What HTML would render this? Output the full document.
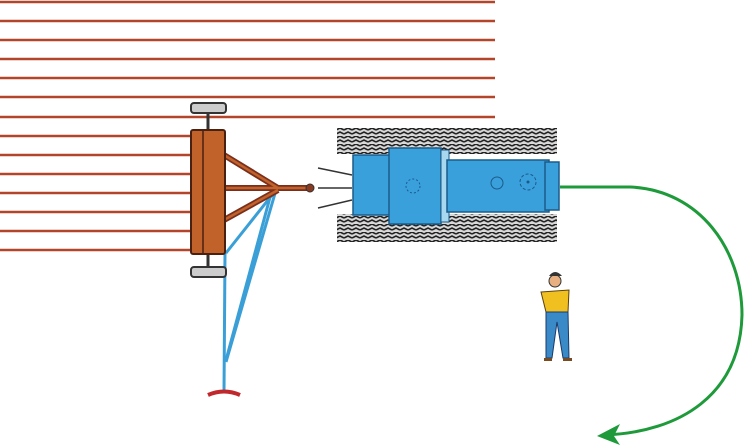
<!DOCTYPE html>
<html><head><style>html,body{margin:0;padding:0;background:#fff}svg{display:block}</style></head>
<body>
<svg width="744" height="447" viewBox="0 0 744 447" xmlns="http://www.w3.org/2000/svg">
<defs>
<pattern id="tr" width="8" height="8" patternUnits="userSpaceOnUse">
<rect width="8" height="8" fill="#d8d8d8"/>
<path d="M0 2 L4 0 L8 2 M0 6 L4 4 L8 6" stroke="#222" stroke-width="1.6" fill="none"/>
</pattern>
</defs>
<g stroke="#b4442a" stroke-width="2.4">
<line x1="0" y1="2" x2="495" y2="2"/><line x1="0" y1="21" x2="495" y2="21"/>
<line x1="0" y1="40" x2="495" y2="40"/><line x1="0" y1="59" x2="495" y2="59"/>
<line x1="0" y1="78" x2="495" y2="78"/><line x1="0" y1="97" x2="495" y2="97"/>
<line x1="0" y1="117" x2="495" y2="117"/><line x1="0" y1="136" x2="190" y2="136"/>
<line x1="0" y1="155" x2="190" y2="155"/><line x1="0" y1="174" x2="190" y2="174"/>
<line x1="0" y1="193" x2="190" y2="193"/><line x1="0" y1="212" x2="190" y2="212"/>
<line x1="0" y1="231" x2="190" y2="231"/><line x1="0" y1="250" x2="190" y2="250"/>
</g>
<g stroke="#3a9fd6" stroke-width="3" fill="none">
<line x1="225" y1="253" x2="224" y2="392"/>
<line x1="276" y1="190" x2="226" y2="253"/>
<line x1="276" y1="190" x2="226" y2="362"/>
<line x1="272" y1="190" x2="226" y2="360"/>
</g>
<path d="M208 395 Q224 388 240 395" stroke="#c0282c" stroke-width="4" fill="none"/>
<rect x="191" y="103" width="35" height="10" rx="3" fill="#ccc" stroke="#333" stroke-width="2"/>
<rect x="191" y="267" width="35" height="10" rx="3" fill="#ccc" stroke="#333" stroke-width="2"/>
<line x1="208" y1="113" x2="208" y2="130" stroke="#333" stroke-width="3"/>
<line x1="208" y1="254" x2="208" y2="267" stroke="#333" stroke-width="3"/>
<g stroke="#7a2e1c" stroke-width="6">
<line x1="224" y1="155" x2="278" y2="188"/>
<line x1="224" y1="188" x2="308" y2="188"/>
<line x1="224" y1="220" x2="278" y2="190"/>
</g>
<g stroke="#c0622a" stroke-width="2.5">
<line x1="224" y1="155" x2="278" y2="188"/>
<line x1="224" y1="188" x2="308" y2="188"/>
<line x1="224" y1="220" x2="278" y2="190"/>
</g>
<circle cx="310" cy="188" r="4" fill="#8a3a20" stroke="#333"/>
<rect x="191" y="130" width="34" height="124" rx="2" fill="#c0622a" stroke="#4a2010" stroke-width="2"/>
<line x1="203" y1="131" x2="203" y2="253" stroke="#4a2010" stroke-width="1.5"/>
<rect x="337" y="128" width="220" height="26" fill="url(#tr)"/>
<rect x="337" y="214" width="220" height="28" fill="url(#tr)"/>
<g stroke="#333" stroke-width="1.5" fill="none"><path d="M318 168 L352 175"/><path d="M318 188 L352 188"/><path d="M318 208 L352 200"/></g>
<rect x="353" y="155" width="40" height="60" fill="#3aa0dc" stroke="#1a5a8a" stroke-width="1.5"/>
<rect x="389" y="148" width="52" height="76" fill="#3aa0dc" stroke="#1a5a8a" stroke-width="1.5"/>
<rect x="441" y="150" width="8" height="72" fill="#a8d8f0" stroke="#1a5a8a"/>
<rect x="447" y="160" width="102" height="52" fill="#3aa0dc" stroke="#1a5a8a" stroke-width="1.5"/>
<rect x="545" y="162" width="14" height="48" fill="#3aa0dc" stroke="#1a5a8a" stroke-width="1.5"/>
<circle cx="413" cy="186" r="7" fill="none" stroke="#1a5a8a" stroke-dasharray="2 2"/>
<circle cx="497" cy="183" r="6" fill="none" stroke="#1a5a8a"/>
<circle cx="528" cy="182" r="8" fill="none" stroke="#1a5a8a" stroke-dasharray="3 2"/>
<circle cx="528" cy="182" r="1.5" fill="#1a5a8a"/>
<path d="M560 187 L630 187 C700 190 742 250 742 315 C740 395 680 432 605 435" stroke="#1e9a3a" stroke-width="3" fill="none"/>
<path d="M597 436 L620 424 L614 436 L620 445 Z" fill="#1e9a3a"/>
<circle cx="555" cy="281" r="6" fill="#e8b080" stroke="#333"/>
<path d="M549 276 Q555 268 562 276" fill="#333"/>
<path d="M541 292 L569 290 L568 312 L546 312 Z" fill="#f0c020" stroke="#5a4010"/>
<path d="M546 312 L568 312 L569 358 L563 358 L557 322 L552 358 L546 358 Z" fill="#3a8ac8" stroke="#1a3a6a"/>
<rect x="544" y="358" width="8" height="3" fill="#7a4a20"/><rect x="563" y="358" width="9" height="3" fill="#7a4a20"/>
</svg>
</body></html>
